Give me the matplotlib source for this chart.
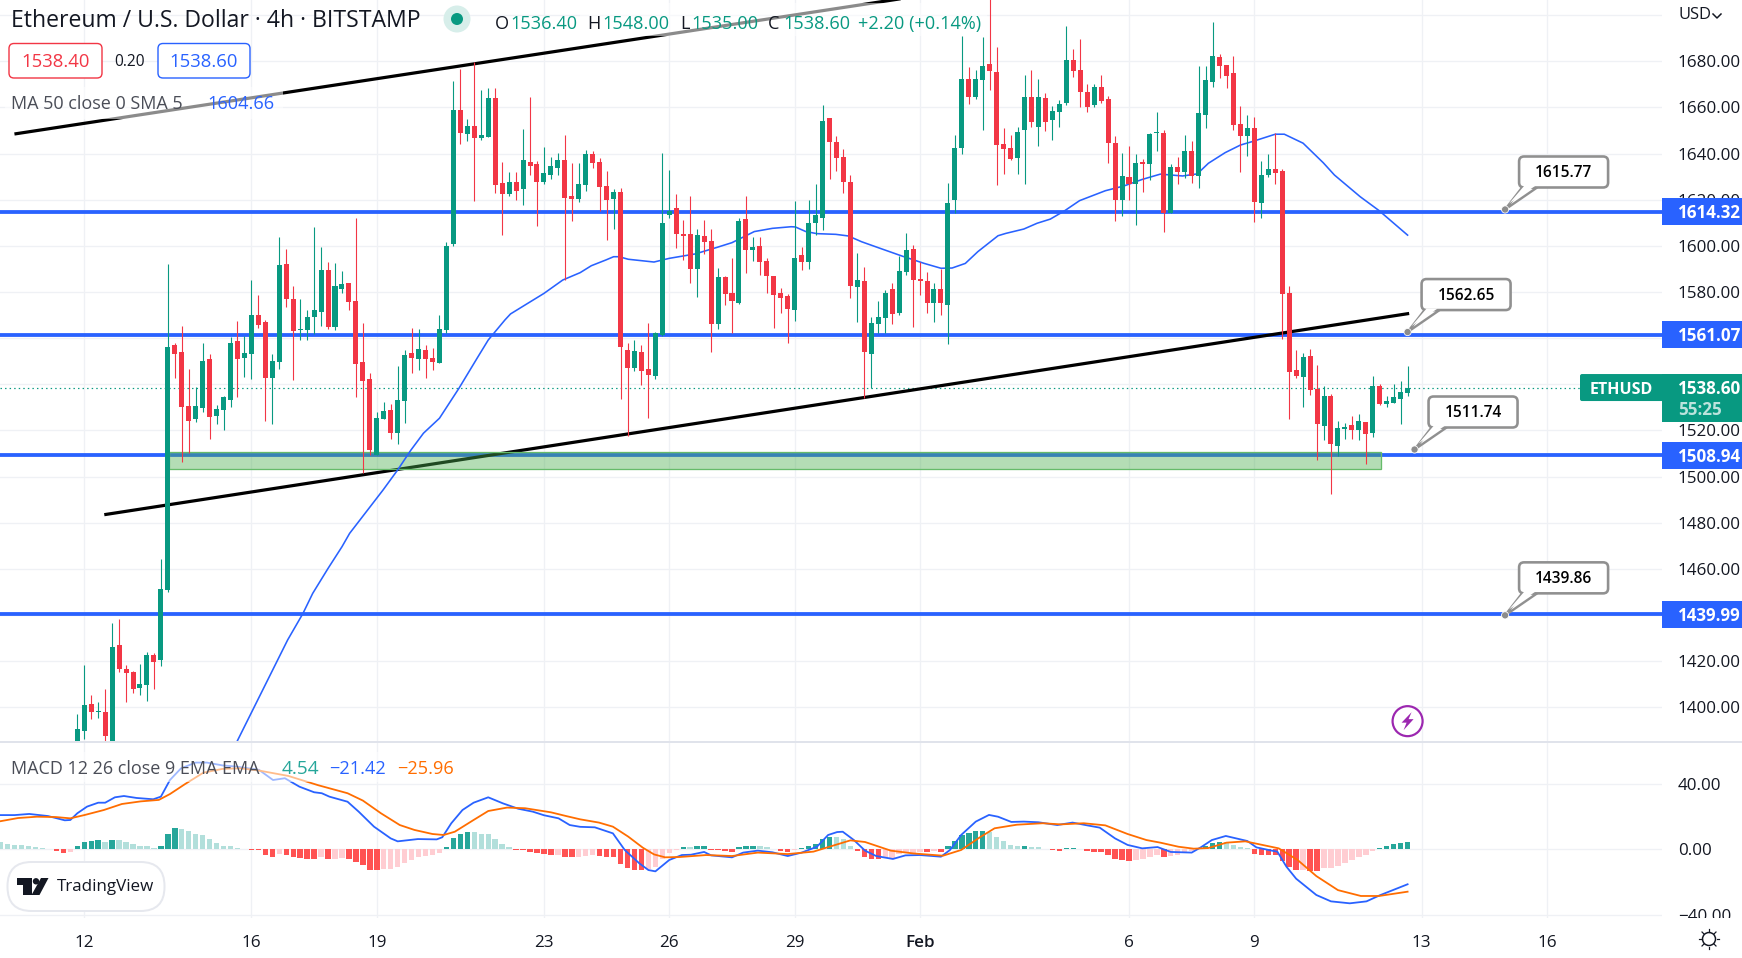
import matplotlib
matplotlib.use('Agg')
import matplotlib.pyplot as plt
from matplotlib.patches import Rectangle, FancyBboxPatch, Polygon, Circle

plt.rcParams['font.family'] = ['Open Sans', 'DejaVu Sans']

# candles start at bar -1, bar 0 is Jan 12 00:00, one bar is 4h
first_bar = -1
candle_open = [
    1380, 1389.9, 1401.5, 1398, 1398, 1383, 1427, 1416.5, 1415.3, 1408.4,
    1409.7, 1422.7, 1420.5, 1450.8, 1557, 1554, 1530.6, 1525, 1529.8, 1551,
    1526.3, 1528.9, 1533.2, 1558.8, 1551.4, 1553.2, 1570, 1567, 1542.8, 1549.7,
    1592.1, 1577, 1563.5, 1563.6, 1569.3, 1571.5, 1589.5, 1565, 1581.4, 1583.8,
    1576, 1549.7, 1542.3, 1509.4, 1525, 1528.9, 1518.9, 1532.8, 1553.6, 1551,
    1554.9, 1551.4, 1549.3, 1563.6, 1600.8, 1658.9, 1648.5, 1652, 1646.8, 1647.2,
    1664.1, 1627.3, 1622.5, 1627.7, 1624.7, 1636.4, 1635.5, 1627.7, 1630.7, 1633.8,
    1637.2, 1621.5, 1620.3, 1626.4, 1639.8, 1636.2, 1626, 1620.3, 1623.4, 1554.9,
    1547.1, 1554, 1546.7, 1543.6, 1561.4, 1613.4, 1616.4, 1605.1, 1605.1, 1590,
    1604.3, 1602, 1566.2, 1586.5, 1579.6, 1575.4, 1611.6, 1598.2, 1599.9, 1593.4,
    1586.9, 1579.6, 1578.3, 1572.2, 1596, 1593, 1609.9, 1612.1, 1655.4, 1645,
    1638.5, 1627.7, 1582.2, 1584.8, 1553.2, 1566.2, 1568.9, 1581.3, 1570.9, 1588.7,
    1598.6, 1585.6, 1584.8, 1575.2, 1581.3, 1574.4, 1619.9, 1642.4, 1672.3, 1664.5,
    1671.9, 1678.8, 1675.4, 1644.2, 1642.4, 1638.1, 1650.2, 1664.5, 1651.5, 1664.1,
    1654.6, 1658, 1661.9, 1680.6, 1676.2, 1666.7, 1661, 1668.9, 1663.7, 1644.6,
    1619.9, 1629.9, 1626.8, 1636.4, 1635.5, 1649, 1648.9, 1614.1, 1634.2, 1632,
    1641.1, 1630.3, 1656.7, 1671, 1681.9, 1678.4, 1674.9, 1652.8, 1647.6, 1651.1,
    1618.6, 1630.7, 1633.3, 1632.5, 1579.6, 1546.2, 1543.2, 1552.3, 1538, 1521.9,
    1534.9, 1513.3, 1520.6, 1522.4, 1520.2, 1523.7, 1518.9, 1539.3, 1531.5, 1531.9,
    1533.6, 1536.4]
candle_close = [
    1390.6, 1401, 1398, 1398.4, 1387.6, 1426, 1416.6, 1415, 1408, 1410.1,
    1422.7, 1419.8, 1451.3, 1556.2, 1553.2, 1530.2, 1524.1, 1530.6, 1550.1, 1525.8,
    1529.3, 1534.5, 1557.9, 1551, 1553.6, 1570, 1565.7, 1542.8, 1550.1, 1591.6,
    1577.1, 1563.1, 1564, 1569, 1572.2, 1589.5, 1565, 1582.6, 1583.5, 1575.8,
    1548.8, 1541.5, 1511.5, 1525.4, 1528.5, 1518.9, 1533.2, 1552.7, 1551.4, 1555.3,
    1551, 1549.7, 1564, 1599.9, 1658.9, 1648.9, 1652, 1646.8, 1648, 1664.1,
    1626.4, 1622.5, 1627.7, 1623.8, 1637.2, 1634.6, 1627.7, 1631.6, 1634.6, 1637.2,
    1620.8, 1620.3, 1626.8, 1639.8, 1636.1, 1625.5, 1619.9, 1623.4, 1556.2, 1547.1,
    1554.5, 1545.8, 1544.1, 1562.3, 1609.9, 1615.1, 1605.1, 1604.3, 1590, 1604.7,
    1601.7, 1566.2, 1586.5, 1579.1, 1576.1, 1610.8, 1598.2, 1599.5, 1593.2, 1586.9,
    1578.7, 1577.5, 1572.6, 1594.7, 1593, 1609.9, 1613.4, 1654.1, 1645, 1638.1,
    1627.7, 1582.6, 1585.2, 1554, 1566.6, 1569, 1579.4, 1570.6, 1589.1, 1598.2,
    1585.2, 1584.8, 1575.2, 1581.3, 1575.2, 1618.6, 1642.4, 1672.3, 1664.5, 1672.3,
    1678, 1675.8, 1643.7, 1642, 1637.7, 1649.4, 1664.5, 1653.7, 1664.5, 1653.7,
    1658.5, 1661.5, 1680.6, 1675.8, 1666.7, 1660.2, 1668.9, 1662.8, 1644.6, 1619.9,
    1630.3, 1626.8, 1635.9, 1635.6, 1648.5, 1649.4, 1614.1, 1634.2, 1632, 1641.1,
    1630.3, 1657.6, 1671.9, 1682.3, 1678, 1673.6, 1652.4, 1647.6, 1651.1, 1619,
    1630.7, 1633.3, 1631.6, 1579.1, 1545.4, 1543.6, 1551.9, 1537.6, 1522.8, 1534.9,
    1514.1, 1521.1, 1521.5, 1520.2, 1524.1, 1518.5, 1539.3, 1531.5, 1532.8, 1534.5,
    1536.7, 1538.6]
candle_high = [
    1397.1, 1418.4, 1405.4, 1402.3, 1407.8, 1436.5, 1438.3, 1418.4, 1415.9, 1418.8,
    1423.9, 1423.4, 1464.3, 1592.1, 1558, 1565.3, 1546.5, 1538.7, 1557.9, 1553.2,
    1531, 1534.8, 1560.7, 1567.5, 1561, 1585.2, 1578.7, 1568, 1553.2, 1603.7,
    1598.5, 1582.6, 1577, 1572.2, 1608, 1599.4, 1593.2, 1592.4, 1589.1, 1583.8,
    1612, 1566.5, 1544.8, 1528, 1532.4, 1531.5, 1548, 1554.9, 1564.4, 1564,
    1557, 1555.8, 1570, 1601.5, 1671.5, 1676.7, 1655, 1679.9, 1667.6, 1668.3,
    1668.3, 1636.4, 1632, 1632, 1650.7, 1664.5, 1637, 1642.9, 1638.7, 1640.3,
    1648, 1635.8, 1636, 1641.6, 1641.1, 1638, 1632.5, 1624.5, 1624.9, 1557.9,
    1559.2, 1557, 1566.6, 1562.7, 1640.3, 1632.9, 1622.3, 1611.2, 1621.6, 1607.3,
    1611.2, 1607.3, 1590.4, 1586.9, 1594.7, 1611.9, 1621.6, 1603.7, 1604, 1594.7,
    1587, 1581.6, 1579, 1619.5, 1599.4, 1619.9, 1626.8, 1661, 1655.4, 1647.6,
    1642, 1630.7, 1596.8, 1590.7, 1569.3, 1576, 1580.9, 1583.8, 1595.6, 1605.4,
    1600.4, 1593.2, 1588.8, 1583.8, 1589.8, 1627.1, 1648.1, 1691, 1677.4, 1676.2,
    1690.7, 1710, 1686.2, 1651, 1648.1, 1651.5, 1674.1, 1676.2, 1672.3, 1666.1,
    1660.6, 1663.2, 1695.3, 1685.3, 1689.7, 1670.2, 1670.2, 1674.1, 1665, 1647.6,
    1640.3, 1643.3, 1640, 1637.7, 1648.9, 1657.9, 1650.2, 1635.5, 1638.4, 1648.1,
    1645.5, 1678, 1678, 1697, 1683.2, 1678.4, 1682.3, 1660.6, 1656.7, 1655.9,
    1636.8, 1639.8, 1648.8, 1633.3, 1582.6, 1554.9, 1553.6, 1555.3, 1548.4, 1539.3,
    1535.8, 1524.1, 1523.2, 1526.3, 1527.2, 1523.7, 1543.6, 1540.2, 1534.9, 1540.2,
    1541.5, 1548]
candle_low = [
    1375, 1386.3, 1395, 1395.4, 1385, 1380, 1415.5, 1402.5, 1406.4, 1405.4,
    1402.8, 1408, 1417.9, 1450, 1542.9, 1506.5, 1510.1, 1523.8, 1528.2, 1516.3,
    1522.8, 1520.2, 1530.2, 1534.5, 1543.2, 1542.3, 1564.4, 1524.1, 1522.8, 1546.7,
    1573.6, 1541.9, 1559.2, 1559.2, 1562, 1565.3, 1564, 1563.6, 1579.4, 1572.2,
    1534.7, 1501.4, 1509.4, 1509.4, 1525, 1516.3, 1514.1, 1523.2, 1544.9, 1546.2,
    1542.8, 1546.2, 1549.3, 1562.1, 1600, 1644.2, 1645.5, 1619.5, 1645.9, 1647.2,
    1622.8, 1604.7, 1621.6, 1619.9, 1617.7, 1630.7, 1608.6, 1626.8, 1629, 1630.7,
    1585.2, 1610.8, 1619.2, 1623.9, 1633.9, 1615.1, 1602.5, 1607.3, 1533.6, 1517.8,
    1545.8, 1539.7, 1525.4, 1542.3, 1561, 1611.9, 1599.1, 1593.9, 1584, 1578,
    1596.5, 1554, 1564, 1574.4, 1562.1, 1575, 1588.1, 1593.6, 1587.4, 1579.4,
    1564.4, 1571, 1557.9, 1567.5, 1589.5, 1590.1, 1604.7, 1606.9, 1629, 1632.6,
    1623, 1577.5, 1567, 1534.1, 1538.3, 1562.1, 1562.1, 1566.2, 1570, 1587.4,
    1564.9, 1578.7, 1571, 1567, 1570, 1557.5, 1614.1, 1639.8, 1661.5, 1663.7,
    1650.2, 1667.6, 1626.4, 1631.2, 1637.2, 1631.2, 1626.8, 1651.7, 1643.3, 1649.8,
    1645.9, 1651.5, 1661, 1673.2, 1660.2, 1658, 1660.2, 1661.9, 1635.9, 1610.8,
    1612.9, 1619.9, 1609, 1623.4, 1628.6, 1641, 1606.2, 1614.1, 1626.8, 1629.6,
    1627.1, 1625.2, 1651, 1668.9, 1672.8, 1668.4, 1650.2, 1632, 1639, 1610.5,
    1612.1, 1630, 1626.8, 1559.7, 1525, 1542.8, 1530.2, 1535.4, 1507.2, 1515.9,
    1492.5, 1508.9, 1516.3, 1516.3, 1515.9, 1505.5, 1517.2, 1531.1, 1530.2, 1531.9,
    1522.8, 1535]

ma_bars = [22, 29.2, 31.4, 32.8, 35, 37, 38.1, 40.5, 42.9, 45, 46.9, 48.7, 51, 53.8, 56.4, 58, 60.4,
           61.2, 63.3, 66, 68.7, 71.2, 72.8, 74.9, 76, 76.8, 78.1, 81.8, 84, 87.7, 90.9, 93, 96.2,
           98.8, 101.5, 102.1, 103.6, 105.2, 107.9, 109.7, 111.6, 114.3, 117.4, 120.6, 123, 124.6,
           126.5, 128.3, 131.2, 132.3, 134.9, 136.8, 138.7, 140.8, 142.9, 146.6, 149.3, 151.9, 154.5,
           157.7, 159.8, 161.4, 163.8, 166, 167.8, 171, 172.3, 175, 177.9, 179.5, 183.2, 185.9, 190]
ma_values = [1385.6, 1429.2, 1440.7, 1449.4, 1460.2, 1469.6, 1475.4, 1484.8, 1494.2, 1502.9, 1511.5, 1518.8,
             1525.3, 1538.3, 1551.3, 1559.2, 1567.9, 1570.5, 1574.4, 1579.4, 1585.2, 1588.4, 1591.4, 1593.9,
             1595.3, 1595.3, 1594.2, 1593, 1594.6, 1596.5, 1599.4, 1601.4, 1606.2, 1607.6, 1608.3, 1608.2,
             1606.2, 1605.3, 1605, 1604.3, 1601.8, 1598.9, 1595.6, 1592.4, 1590.3, 1590.4, 1592.4, 1597.5,
             1604.4, 1605.4, 1607.3, 1609.8, 1611.6, 1615.3, 1619.6, 1623.9, 1626, 1628.8, 1631.1, 1630.3,
             1631.2, 1635.8, 1640.4, 1643.7, 1645.3, 1648.4, 1648.4, 1644.5, 1636, 1630.7, 1621.3, 1615.3, 1604.66]

hist_first_bar = -12
hist_values = [
    4.5, 3.3, 2.9, 2.5, 2.0, 1.4, 0.8, 0.2, -0.8, -2.2, -1.6, 2.0, 4.5, 4.9, 5.7, 4.7, 5.7, 5.5, 4.7, 3.3,
    2.2, 2.0, 1.0, 2.0, 9.4, 13.1, 12.3, 11.2, 9.4, 8.8, 6.3, 3.9, 2.0, 2.0, 0.8, 0, -0.4, -0.6, -3.5, -4.7,
    -2.9, -3.7, -4.7, -5.3, -5.9, -5.9, -4.9, -5.9, -5.8, -5.5, -5.9, -8.0, -9.6, -12.5, -12.9, -12.3, -12.2,
    -10.8, -8.6, -6.3, -4.9, -4.1, -3.7, -2.5, 1.4, 7.0, 9.4, 10.6, 10.6, 9.4, 9.4, 6.3, 3.3, 1.4, -0.2,
    -0.4, -1.4, -2.5, -2.9, -3.6, -3.5, -4.5, -4.7, -4.6, -3.9, -3.5, -4.1, -4.5, -4.5, -9.0, -11.5, -12.7,
    -12.7, -12.3, -10.8, -5.9, -2.2, -0.4, 1.4, 1.4, 1.9, 2.0, -0.4, -0.4, -1.0, -1.6, 1.4, 1.9, 2.0, 1.9,
    1.4, 0.2, -1.0, -1.6, -0.4, 0.8, 2.0, 3.3, 6.3, 7.6, 7.6, 6.3, 2.0, -1.0, -4.7, -5.9, -5.9, -5.4, -5.3,
    -2.9, -2.3, -2.2, -1.4, -1.6, -1.0, -1.6, 2.0, 5.1, 8.8, 10.0, 11.2, 11.3, 10.6, 7.6, 5.1, 2.7, 2.0, 2.1,
    1.4, 1.4, 0.2, -0.4, -1.0, 0.8, 0.9, 0.2, -1.0, -1.6, -1.6, -3.5, -5.9, -6.5, -7.2, -6.7, -5.9, -4.7,
    -3.5, -4.7, -4.1, -3.5, -2.2, -0.8, 0.6, 2.0, 3.9, 4.5, 4.5, 2.7, 1.4, 0.8, -2.9, -3.5, -3.5, -3.5, -7.2,
    -10.8, -12.7, -12.6, -13.1, -13.1, -11.5, -11.4, -10.2, -8.4, -6.5, -4.7, -3.5, -1.0, 0.8, 2.0, 3.3, 3.9, 4.54]

macd_bars = [-12.1, -10, -7.9, -5.2, -2.8, -2, -1, 0.4, 2, 3, 4.4, 5.7, 7.5, 9.9, 11, 12.3, 13.9, 16, 17.6, 19.8,
             21.9, 25.1, 27.1, 28.8, 30.9, 33, 34.1, 35.2, 37.8, 39.4, 41.6, 44, 45, 47.9, 50.6, 51.4, 52.7,
             54.3, 55.9, 58, 60.1, 62.3, 64.4, 66, 68.1, 69.7, 71.2, 73.3, 75.9, 77.6, 79.7, 81, 82, 84, 85.8,
             87.1, 89, 90, 93, 94.6, 96.7, 98.8, 101, 103, 105.2, 106.8, 108.1, 108.9, 110.5, 112.1, 113.7,
             116.1, 117.9, 120, 123, 124.3, 125.9, 128, 129.9, 131.2, 133.1, 134.9, 137, 139.7, 141.9, 144,
             145.8, 148, 149.8, 151.9, 154.1, 156, 159, 160.3, 161.9, 163.9, 167, 168.3, 170.5, 171.3, 172.6,
             174, 176.9, 179, 181.7, 184.1, 186, 190]
macd_values = [21, 21, 21.7, 20.4, 17.8, 18, 22.1, 26.2, 28.6, 28.6, 31.9, 32.7, 31.5, 30.7, 32.3, 42.5, 49.7, 53.2,
               53.2, 51.5, 50.7, 48.7, 42.5, 43.6, 38.4, 35, 34.4, 32.3, 29.2, 23.1, 13.9, 6.7, 4.9, 6.3, 6.1, 7.4,
               16, 24.1, 28.6, 31.9, 28.2, 24.9, 23.1, 20.9, 19, 14.9, 13.8, 13.5, 9.8, -0.4, -8.6, -12.7, -13.5,
               -6.5, -3.5, -3.3, -1.6, -3.7, -4.9, -2, -0.8, -1.8, -4.1, -2, 1.6, 8.8, 10.6, 10.8, 5.7, -0.8, -4.1,
               -5.9, -3.7, -3.5, -4.5, -0.4, 8.8, 17, 21.1, 20, 16.8, 17, 16.6, 14.9, 16.4, 14.7, 13.3, 6.7, 2.7,
               0.6, 1.4, -1.6, -2, 1.2, 5.7, 8.2, 5.1, 1.2, -0.8, -1.4, -10.6, -18, -28, -31.9, -33.1, -31.9,
               -28.2, -21.42]
signal_bars = [-12.1, -9.5, -6.8, -4.1, -2, 0.1, 2.8, 5.4, 8.1, 10.7, 12.3, 14.5, 17.1, 19.8, 22.4, 25.1, 29.3, 33.6,
               37.8, 40, 42.6, 45.3, 47.4, 50, 51.6, 53.2, 55.9, 58, 60.7, 63.3, 67, 69.2, 71.2, 73.9, 75.9, 78.1,
               80.2, 81.8, 83.4, 85.5, 89.3, 93, 96.7, 101, 104.7, 107.3, 110, 112.1, 115.8, 119, 123.3, 125.9,
               128.6, 130.7, 133.9, 137.6, 140.2, 143.5, 146.6, 149.8, 152.5, 154.5, 157.1, 159.3, 161.4, 164,
               166.7, 171.5, 174.2, 176.9, 180, 183.3, 185.9, 190]
signal_values = [17.2, 19.2, 20, 19.8, 19, 21.1, 24.1, 27.8, 29.4, 30.3, 33.9, 40.1, 47, 49.3, 49.7, 48.3, 45, 39.3,
                 34.4, 29.9, 22.1, 14.9, 11.9, 9.4, 8.8, 10.8, 18, 23.5, 25.6, 25.2, 22.7, 20.4, 18.4, 16.4, 13.9,
                 7.8, 1, -3.1, -4.9, -4.7, -3.5, -4.1, -2, -2.9, -1.4, 2, 5.5, 4.5, -0.8, -2.5, -3.9, -0.4, 7.4,
                 12.9, 15.1, 16, 15.3, 16, 14.7, 9.4, 5.7, 4.1, 1.6, 0.4, 0.8, 4.1, 4.9, 0.6, -6.5, -16.4, -25,
                 -28.6, -28.6, -25.96]

# drawings
h_levels = [1614.32, 1561.07, 1508.94, 1439.99]
h_level_drawn = [1614.8, 1561.4, 1509.3, 1440.4]  # where the lines sit on the price scale
upper_trend_bars = [-9.8, 130]
upper_trend_prices = [1648.6, 1713]
lower_trend_bars = [3.1, 190]
lower_trend_prices = [1483.6, 1570.6]
zone_bars = [12.2, 186.2]
zone_prices = [1503.5, 1510.5]
callout_bars = [204, 190, 191, 204]
callout_prices = [1615.77, 1562.65, 1511.74, 1439.86]

price_ticks = list(range(1400, 1720, 20))
macd_ticks = [-40, 0, 40]
x_tick_bars = [0, 24, 42, 66, 84, 102, 120, 150, 168, 192, 210]
x_tick_labels = ['12', '16', '19', '23', '26', '29', 'Feb', '6', '9', '13', '16']

GREEN = '#089981'
RED = '#F23645'
BLUE = '#2962FF'
ORANGE = '#FF6D00'
GRID = '#EFF1F5'
TEXT = '#131722'
GREY_TEXT = '#4A4D57'

W, H = 1742, 958
AX_RIGHT = 1661.8
PX = 0.72  # points per pixel at dpi 100


def rect(x0, y0, x1, y1):
    return [x0 / W, 1 - y1 / H, (x1 - x0) / W, (y1 - y0) / H]


fig = plt.figure(figsize=(W / 100, H / 100), dpi=100, facecolor='white')
ax = fig.add_axes(rect(0, 0, AX_RIGHT, 741))
ax2 = fig.add_axes(rect(0, 743, AX_RIGHT, 918))
ov = fig.add_axes([0, 0, 1, 1], zorder=10)
ov.set_xlim(0, W)
ov.set_ylim(H, 0)
ov.axis('off')
ov.patch.set_alpha(0)

xlim = (-12.1, 226.5)
ax.set_xlim(*xlim)
ax.set_ylim(1385.4, 1706.57)
ax2.set_xlim(*xlim)
ax2.set_ylim(-42.1, 65.2)

for a in (ax, ax2):
    for s in a.spines.values():
        s.set_visible(False)
    a.set_axisbelow(True)
    a.grid(True, color=GRID, lw=1.3 * PX)
    a.tick_params(length=0)
    a.set_xticks(x_tick_bars)
    a.yaxis.tick_right()

ax.set_xticklabels([])
ax.set_yticks(price_ticks)
ax.set_yticklabels(['%.2f' % p if p < 1700 else '' for p in price_ticks], fontsize=17 * PX, color=TEXT)
ax.tick_params(axis='y', pad=16 * PX)
ax2.set_yticks(macd_ticks)
ax2.set_yticklabels([('%.2f' % v).replace('-', '\u2212') for v in macd_ticks], fontsize=17 * PX, color=TEXT)
ax2.tick_params(axis='y', pad=16 * PX)
ax2.set_xticklabels(x_tick_labels, fontsize=17 * PX, color=TEXT)
ax2.tick_params(axis='x', pad=17 * PX)
ax2.get_xticklabels()[6].set_fontweight('semibold')

# levels, trend lines, zone
for lv in h_level_drawn:
    ax.axhline(lv, color=BLUE, lw=3.8 * PX, zorder=2)
ax.plot(upper_trend_bars, upper_trend_prices, color='black', lw=3.2 * PX, zorder=2.2)
ax.plot(lower_trend_bars, lower_trend_prices, color='black', lw=3.2 * PX, zorder=2.2)
ax.add_patch(Rectangle((zone_bars[0], zone_prices[0]), zone_bars[1] - zone_bars[0], zone_prices[1] - zone_prices[0],
                       facecolor='#4CAF50', alpha=0.42, edgecolor='none', zorder=3))
ax.add_patch(Rectangle((zone_bars[0], zone_prices[0]), zone_bars[1] - zone_bars[0], zone_prices[1] - zone_prices[0],
                       facecolor='none', edgecolor='#66BB6A', lw=1.3 * PX, zorder=3))
ax.axhline(candle_close[-1], color=GREEN, lw=1.2 * PX, ls=(0, (1.2, 2.6)), zorder=2)
ax.plot(ma_bars, ma_values, color=BLUE, lw=1.6 * PX, zorder=3.5)

# candles
bars = list(range(first_bar, first_bar + len(candle_open)))
colors = [GREEN if c >= o else RED for o, c in zip(candle_open, candle_close)]
ax.vlines(bars, candle_low, candle_high, colors=colors, lw=1.1 * PX, zorder=4)
ax.bar(bars, [abs(c - o) for o, c in zip(candle_open, candle_close)],
       bottom=[min(o, c) for o, c in zip(candle_open, candle_close)],
       width=0.72, color=colors, linewidth=0, zorder=4.1)

# macd pane
h_bars = list(range(hist_first_bar, hist_first_bar + len(hist_values)))
h_colors = []
for k, v in enumerate(hist_values):
    prev = hist_values[k - 1] if k else float('inf')
    if v >= 0:
        h_colors.append('#26A69A' if prev < v else '#B2DFDB')
    else:
        h_colors.append('#FFCDD2' if prev < v else '#FF5252')
ax2.bar(h_bars, hist_values, width=0.78, color=h_colors, linewidth=0, zorder=2)
ax2.plot(macd_bars, macd_values, color=BLUE, lw=1.8 * PX, zorder=3)
ax2.plot(signal_bars, signal_values, color=ORANGE, lw=1.8 * PX, zorder=3.1)


def to_px(a, x, y):
    return ov.transData.inverted().transform(a.transData.transform((x, y)))


# translucent legend backings
for box in [(580, 3, 987, 36), (5, 87, 283, 119), (5, 752, 459, 782)]:
    ov.add_patch(Rectangle((box[0], box[1]), box[2] - box[0], box[3] - box[1], fc='white', alpha=0.55, ec='none', zorder=1))

ov.add_patch(Rectangle((0, 741), W, 2.2, fc='#E0E3EB', ec='none', zorder=2))
ov.add_patch(Rectangle((AX_RIGHT, 918), W - AX_RIGHT, 40, fc='white', ec='none', zorder=2))


def label(x, y, s, size=18.2, color=TEXT, ha='left', **kw):
    ov.text(x, y, s, fontsize=size * PX, color=color, ha=ha, va='center', zorder=6, **kw)


# header
label(11, 21, 'Ethereum / U.S. Dollar \u00b7 4h \u00b7 BITSTAMP', size=23)
ov.add_patch(Circle((457, 19), 13.5, fc='#D7EEEA', ec='none', zorder=5))
ov.add_patch(Circle((457, 19), 6, fc=GREEN, ec='none', zorder=6))
for x, s in [(495, 'O'), (587, 'H'), (680, 'L'), (768, 'C')]:
    label(x, 23.5, s)
for x, s in [(510, '1536.40'), (602, '1548.00'), (691, '1535.00'), (783, '1538.60'), (858, '+2.20 (+0.14%)')]:
    label(x, 23.5, s, color=GREEN)

for x0, x1, col, s in [(9, 102, RED, '1538.40'), (158, 250, BLUE, '1538.60')]:
    ov.add_patch(FancyBboxPatch((x0, 43.5), x1 - x0, 34.5, boxstyle='round,pad=0,rounding_size=5',
                                fc='white', ec=col, lw=1.4 * PX, zorder=5))
    label((x0 + x1) / 2, 62, s, size=18.5, color=col, ha='center')
label(130, 62, '0.20', size=15.5, ha='center')

label(11, 104, 'MA 50 close 0 SMA 5', size=18, color=GREY_TEXT)
label(207, 104, '1604.66', color=BLUE)
label(11, 769, 'MACD 12 26 close 9 EMA EMA', size=18, color=GREY_TEXT)
label(282, 769, '4.54', size=19, color='#26A69A')
label(329, 769, '\u221221.42', color=BLUE)
label(397, 769, '\u221225.96', color=ORANGE)

label(1678, 15, 'USD', size=16.5)
ov.plot([1713, 1717, 1721], [14, 18, 14], color=TEXT, lw=1.5 * PX, zorder=6)

# axis tags
for lv, drawn in zip(h_levels, h_level_drawn):
    _, y = to_px(ax, 0, drawn)
    ov.add_patch(Rectangle((AX_RIGHT, y - 13.5), W - AX_RIGHT, 27, fc=BLUE, ec='none', zorder=5))
    label(1678, y + 1.5, '%.2f' % lv, size=17, color='white', fontweight='bold')

_, y = to_px(ax, 0, candle_close[-1])
ov.add_patch(Rectangle((AX_RIGHT, y - 13.5), W - AX_RIGHT, 47.5, fc=GREEN, ec='none', zorder=5))
ov.add_patch(FancyBboxPatch((1580, y - 13.5), 84, 27, boxstyle='round,pad=0,rounding_size=2', fc=GREEN, ec='none', zorder=5))
label(1621, y + 2, 'ETHUSD', size=16, color='white', ha='center', fontweight='bold')
label(1678, y + 1.5, '%.2f' % candle_close[-1], size=17, color='white', fontweight='bold')
label(1678, y + 22, '55:25', size=17, color='#BCE3DC', fontweight='bold')

# callouts
for b, p in zip(callout_bars, callout_prices):
    xa, ya = to_px(ax, b, p)
    ov.add_patch(Polygon([(xa, ya), (xa + 17, ya - 22), (xa + 32, ya - 22)], closed=True, fc='white', ec='#909090',
                         lw=2.4 * PX, joinstyle='round', zorder=4))
    ov.add_patch(FancyBboxPatch((xa + 14, ya - 53), 89, 31, boxstyle='round,pad=0,rounding_size=5',
                                fc='white', ec='#909090', lw=2.6 * PX, zorder=4.1))
    ov.add_patch(Polygon([(xa + 4, ya - 6), (xa + 19, ya - 23.5), (xa + 30, ya - 23.5)], closed=True, fc='white', ec='none', zorder=4.2))
    ov.add_patch(Circle((xa, ya), 3.6, fc='#8C8C8C', ec='white', lw=0.8 * PX, zorder=4.3))
    label(xa + 58.5, ya - 36.5, '%.2f' % p, size=15.5, color='black', ha='center', fontweight='semibold')

# lightning icon
xc, yc = to_px(ax, 190, 1394)
ov.add_patch(Circle((xc, yc), 15, fc='white', ec='#9C27B0', lw=2.2 * PX, zorder=5))
ov.add_patch(Polygon([(xc + dx, yc + dy) for dx, dy in [(4, -9), (-6, 1.5), (-1, 1.5), (-4, 9), (6, -2), (1, -2)]],
                     closed=True, fc='#9C27B0', ec='none', zorder=6))

# TradingView badge
ov.add_patch(FancyBboxPatch((7.5, 862), 157, 49, boxstyle='round,pad=0,rounding_size=24', fc='white', ec='#E6E8EE', lw=2 * PX, zorder=5))
ov.add_patch(Polygon([(17, 878), (31.5, 878), (31.5, 895), (23, 895), (23, 884.5), (17, 884.5)], closed=True, fc=TEXT, ec='none', zorder=6))
ov.add_patch(Circle((36, 881.3), 3.2, fc=TEXT, ec='none', zorder=6))
ov.add_patch(Polygon([(41, 878), (48.5, 878), (39.5, 895), (31.5, 895)], closed=True, fc=TEXT, ec='none', zorder=6))
label(57, 887, 'TradingView', size=17)

# settings sun
ov.add_patch(Circle((1709, 939), 6.5, fc='none', ec=TEXT, lw=1.5 * PX, zorder=6))
for dx, dy in [(0, -10), (0, 10), (-10, 0), (10, 0), (-7, -7), (7, -7), (-7, 7), (7, 7)]:
    ov.plot([1709 + dx * 0.75, 1709 + dx], [939 + dy * 0.75, 939 + dy], color=TEXT, lw=1.2 * PX, zorder=6)

fig.savefig('out.png', dpi=100)
